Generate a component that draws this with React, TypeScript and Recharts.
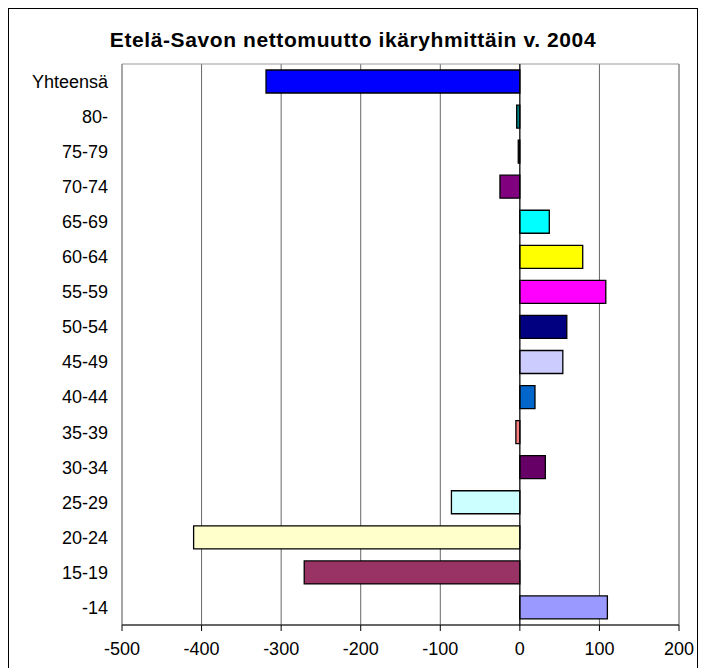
import React from 'react';
import { BarChart, Bar, XAxis, YAxis, CartesianGrid, Cell, ReferenceLine, ReferenceArea } from 'recharts';

const ageGroups = ['Yhteensä', '80-', '75-79', '70-74', '65-69', '60-64', '55-59', '50-54', '45-49', '40-44', '35-39', '30-34', '25-29', '20-24', '15-19', '-14'];
const netMigration = [-319, -4, -2, -25, 37, 79, 108, 59, 54, 19, -5, 32, -86, -410, -271, 110];
const barColors = ['#0000FF', '#008080', '#1a1a1a', '#800080', '#00FFFF', '#FFFF00', '#FF00FF', '#000080', '#CCCCFF', '#0066CC', '#FF8080', '#660066', '#CCFFFF', '#FFFFCC', '#993366', '#9999FF'];
const xTicks = [-500, -400, -300, -200, -100, 0, 100, 200];

const data = ageGroups.map((g, i) => ({ group: g, value: netMigration[i], fill: barColors[i] }));

const font = 'Arial, "Liberation Sans", sans-serif';

export default function App() {
    return (
        <div style={{ position: 'relative', width: 688, height: 680, border: '1px solid #000', fontFamily: font }}>
            <div style={{ position: 'absolute', top: 19, left: 0, width: 688, textAlign: 'center', fontSize: 21, fontWeight: 'bold', letterSpacing: 0.6, color: '#000' }}>
                Etelä-Savon nettomuutto ikäryhmittäin v. 2004
            </div>
            <BarChart
                width={688}
                height={680}
                data={data}
                layout="vertical"
                margin={{ top: 55, right: 18, bottom: 34, left: 0 }}
                barCategoryGap={6}
            >
                <ReferenceArea x1={-500} x2={200} fill="none" stroke="#999" ifOverflow="extendDomain" />
                <CartesianGrid horizontal={false} stroke="#666" />
                <XAxis
                    type="number"
                    domain={[-500, 200]}
                    ticks={xTicks}
                    stroke="#000"
                    tickSize={6}
                    tickMargin={11}
                    tick={{ fill: '#000', fontSize: 18, fontFamily: font }}
                    height={30}
                />
                <YAxis
                    type="category"
                    dataKey="group"
                    width={113}
                    axisLine={false}
                    tickLine={false}
                    tickMargin={8}
                    tick={{ fill: '#000', fontSize: 18, fontFamily: font }}
                    interval={0}
                />
                <Bar dataKey="value" stroke="#000" strokeWidth={1.3} isAnimationActive={false}>
                    {data.map((d, i) => (
                        <Cell key={i} fill={d.fill} />
                    ))}
                </Bar>
                <ReferenceLine x={0} stroke="#000" />
            </BarChart>
        </div>
    );
}
